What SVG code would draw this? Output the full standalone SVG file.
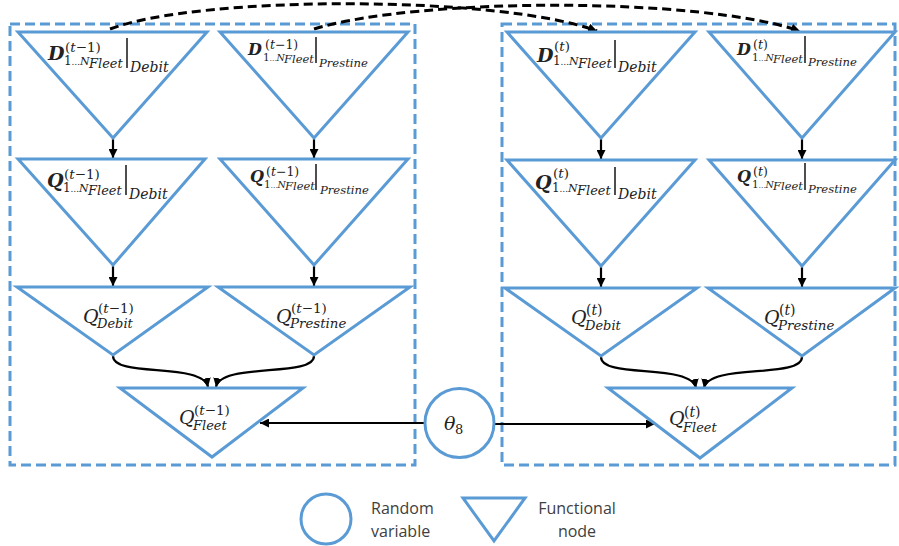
<svg xmlns="http://www.w3.org/2000/svg" width="899" height="546" viewBox="0 0 899 546">
<style>
.tri{fill:none;stroke:#5B9BD5;stroke-width:3;stroke-linejoin:miter}
.circ{fill:#fff;stroke:#5B9BD5;stroke-width:3}
.box{fill:none;stroke:#5B9BD5;stroke-width:3;stroke-dasharray:10 5}
.m{font-family:"DejaVu Serif","Liberation Serif",serif;fill:#222}
.i{font-style:italic}
.b{font-style:italic;font-weight:bold}
.bar{stroke:#222;stroke-width:1.6}
.c{fill:none;stroke:#000;stroke-width:2.2}
.d{fill:none;stroke:#000;stroke-width:3;stroke-dasharray:9 5}
.leg{font-family:"Open Sans","Noto Sans","Liberation Sans",sans-serif;font-size:16px;fill:#404040}
</style>
<defs>
<marker id="ah" viewBox="0 0 10 10" refX="10" refY="5" markerWidth="9" markerHeight="9" markerUnits="userSpaceOnUse" orient="auto"><path d="M0,0 L10,5 L0,10 z" fill="#000"/></marker>
</defs>

<g id="frames">
<rect class="box" x="10" y="24" width="405" height="441"/>
<rect class="box" x="502" y="24" width="393" height="441"/>
</g>

<g id="connectors">
<path class="d" d="M110,29 C200,-5 500,-5 597,31" marker-end="url(#ah)"/>
<path class="d" d="M314,29 C420,-3 700,-3 800,31" marker-end="url(#ah)"/>
<line class="c" x1="113" y1="139" x2="113" y2="158" marker-end="url(#ah)"/>
<line class="c" x1="314" y1="139" x2="314" y2="158" marker-end="url(#ah)"/>
<line class="c" x1="601" y1="139" x2="601" y2="159" marker-end="url(#ah)"/>
<line class="c" x1="802" y1="139" x2="802" y2="159" marker-end="url(#ah)"/>
<line class="c" x1="113" y1="266" x2="113" y2="286" marker-end="url(#ah)"/>
<line class="c" x1="314" y1="266" x2="314" y2="286" marker-end="url(#ah)"/>
<line class="c" x1="601" y1="266" x2="601" y2="287" marker-end="url(#ah)"/>
<line class="c" x1="802" y1="266" x2="802" y2="287" marker-end="url(#ah)"/>
<path class="c" d="M113,356 C113,378 203,362 208,387" marker-end="url(#ah)"/>
<path class="c" d="M314,356 C314,378 221,362 216,387" marker-end="url(#ah)"/>
<path class="c" d="M601,357 C601,379 691,363 696,388" marker-end="url(#ah)"/>
<path class="c" d="M802,357 C802,379 709,363 704,388" marker-end="url(#ah)"/>
<line class="c" x1="425" y1="423" x2="260" y2="423" marker-end="url(#ah)"/>
<line class="c" x1="494" y1="424" x2="655" y2="424" marker-end="url(#ah)"/>
</g>

<!-- Row 1 left -->
<g id="D_prev_debit">
<polygon class="tri" points="18,32 207,32 113,138"/>
<text class="m"><tspan class="b" x="48" y="60" font-size="19">D</tspan><tspan x="65" y="52" font-size="13.5">(<tspan class="i">t</tspan>−1)</tspan><tspan x="64" y="65" font-size="12">1</tspan><tspan x="71.5" y="65" font-size="8.5">…</tspan><tspan class="i" x="80" y="65" font-size="11">N</tspan><tspan class="i" x="89" y="68" font-size="13">Fleet</tspan><tspan class="i" x="130" y="72" font-size="14">Debit</tspan></text>
<line class="bar" x1="127" y1="38" x2="127" y2="68"/>
</g>
<g id="D_prev_prestine">
<polygon class="tri" points="220,32 408,32 314,138"/>
<text class="m"><tspan class="b" x="248" y="55" font-size="16">D</tspan><tspan x="265" y="49" font-size="12.5">(<tspan class="i">t</tspan>−1)</tspan><tspan x="263" y="61" font-size="10.5">1</tspan><tspan x="269.5" y="61" font-size="7.5">…</tspan><tspan class="i" x="276.5" y="61" font-size="9.5">N</tspan><tspan class="i" x="284" y="63" font-size="11.5">Fleet</tspan><tspan class="i" x="319" y="67" font-size="11.6">Prestine</tspan></text>
<line class="bar" x1="316" y1="37" x2="316" y2="63"/>
</g>
<!-- Row 1 right -->
<g id="D_t_debit">
<polygon class="tri" points="507,32 695,32 601,138"/>
<text class="m"><tspan class="b" x="537" y="62" font-size="19">D</tspan><tspan x="554" y="51" font-size="13.5">(<tspan class="i">t</tspan>)</tspan><tspan x="553" y="65" font-size="12">1</tspan><tspan x="560.5" y="65" font-size="8.5">…</tspan><tspan class="i" x="569" y="65" font-size="11">N</tspan><tspan class="i" x="578" y="68" font-size="13">Fleet</tspan><tspan class="i" x="618" y="72" font-size="14">Debit</tspan></text>
<line class="bar" x1="615" y1="40" x2="615" y2="68"/>
</g>
<g id="D_t_prestine">
<polygon class="tri" points="709,32 895,32 802,138"/>
<text class="m"><tspan class="b" x="737" y="55" font-size="16">D</tspan><tspan x="753" y="49" font-size="12.5">(<tspan class="i">t</tspan>)</tspan><tspan x="752" y="61" font-size="10.5">1</tspan><tspan x="758.5" y="61" font-size="7.5">…</tspan><tspan class="i" x="765.5" y="61" font-size="9.5">N</tspan><tspan class="i" x="773" y="63" font-size="11.5">Fleet</tspan><tspan class="i" x="808" y="66" font-size="11.6">Prestine</tspan></text>
<line class="bar" x1="805" y1="36" x2="805" y2="63"/>
</g>

<!-- Row 2 left -->
<g id="Q_prev_debit_vec">
<polygon class="tri" points="18,159 205,159 113,265"/>
<text class="m"><tspan class="b" x="47" y="187" font-size="19">Q</tspan><tspan x="64" y="179" font-size="13.5">(<tspan class="i">t</tspan>−1)</tspan><tspan x="63" y="192" font-size="12">1</tspan><tspan x="70.5" y="192" font-size="8.5">…</tspan><tspan class="i" x="79" y="192" font-size="11">N</tspan><tspan class="i" x="88" y="195" font-size="13">Fleet</tspan><tspan class="i" x="129" y="199" font-size="14">Debit</tspan></text>
<line class="bar" x1="126" y1="165" x2="126" y2="195"/>
</g>
<g id="Q_prev_prestine_vec">
<polygon class="tri" points="220,159 408,159 314,265"/>
<text class="m"><tspan class="b" x="250" y="182" font-size="16">Q</tspan><tspan x="266" y="176" font-size="12.5">(<tspan class="i">t</tspan>−1)</tspan><tspan x="264" y="188" font-size="10.5">1</tspan><tspan x="270.5" y="188" font-size="7.5">…</tspan><tspan class="i" x="277.5" y="188" font-size="9.5">N</tspan><tspan class="i" x="285" y="190" font-size="11.5">Fleet</tspan><tspan class="i" x="320" y="194" font-size="11.6">Prestine</tspan></text>
<line class="bar" x1="316" y1="164" x2="316" y2="190"/>
</g>
<!-- Row 2 right -->
<g id="Q_t_debit_vec">
<polygon class="tri" points="507,160 695,160 601,266"/>
<text class="m"><tspan class="b" x="535" y="189" font-size="19">Q</tspan><tspan x="553" y="178" font-size="13.5">(<tspan class="i">t</tspan>)</tspan><tspan x="552" y="192" font-size="12">1</tspan><tspan x="559.5" y="192" font-size="8.5">…</tspan><tspan class="i" x="568" y="192" font-size="11">N</tspan><tspan class="i" x="577" y="195" font-size="13">Fleet</tspan><tspan class="i" x="618" y="199" font-size="14">Debit</tspan></text>
<line class="bar" x1="615" y1="167" x2="615" y2="195"/>
</g>
<g id="Q_t_prestine_vec">
<polygon class="tri" points="709,160 895,160 802,266"/>
<text class="m"><tspan class="b" x="737" y="182" font-size="16">Q</tspan><tspan x="753" y="176" font-size="12.5">(<tspan class="i">t</tspan>)</tspan><tspan x="752" y="188" font-size="10.5">1</tspan><tspan x="758.5" y="188" font-size="7.5">…</tspan><tspan class="i" x="765.5" y="188" font-size="9.5">N</tspan><tspan class="i" x="773" y="190" font-size="11.5">Fleet</tspan><tspan class="i" x="808" y="193" font-size="11.6">Prestine</tspan></text>
<line class="bar" x1="805" y1="163" x2="805" y2="190"/>
</g>

<!-- Row 3 -->
<g id="Q_prev_debit">
<polygon class="tri" points="17,287 208,287 113,355"/>
<text class="m"><tspan class="i" x="83" y="323" font-size="19">Q</tspan><tspan x="98" y="313" font-size="13.5">(<tspan class="i">t</tspan>−1)</tspan><tspan class="i" x="97" y="328" font-size="13">Debit</tspan></text>
</g>
<g id="Q_prev_prestine">
<polygon class="tri" points="218,287 410,287 314,355"/>
<text class="m"><tspan class="i" x="276" y="323" font-size="19">Q</tspan><tspan x="291" y="313" font-size="13.5">(<tspan class="i">t</tspan>−1)</tspan><tspan class="i" x="290" y="328" font-size="13.4">Prestine</tspan></text>
</g>
<g id="Q_t_debit">
<polygon class="tri" points="505,288 697,288 601,356"/>
<text class="m"><tspan class="i" x="571" y="324" font-size="19">Q</tspan><tspan x="586" y="315" font-size="14">(<tspan class="i">t</tspan>)</tspan><tspan class="i" x="585" y="330" font-size="13">Debit</tspan></text>
</g>
<g id="Q_t_prestine">
<polygon class="tri" points="708,288 895,288 802,356"/>
<text class="m"><tspan class="i" x="764" y="324" font-size="19">Q</tspan><tspan x="779" y="315" font-size="14">(<tspan class="i">t</tspan>)</tspan><tspan class="i" x="778" y="330" font-size="13.4">Prestine</tspan></text>
</g>

<!-- Row 4 -->
<g id="Q_prev_fleet">
<polygon class="tri" points="120,388 303,388 212,457"/>
<text class="m"><tspan class="i" x="179" y="424" font-size="19">Q</tspan><tspan x="194" y="415" font-size="13.5">(<tspan class="i">t</tspan>−1)</tspan><tspan class="i" x="193" y="430" font-size="13">Fleet</tspan></text>
</g>
<g id="Q_t_fleet">
<polygon class="tri" points="608,388 792,388 700,458"/>
<text class="m"><tspan class="i" x="669" y="425" font-size="19">Q</tspan><tspan x="684" y="417" font-size="14">(<tspan class="i">t</tspan>)</tspan><tspan class="i" x="683" y="432" font-size="13">Fleet</tspan></text>
</g>

<g id="theta8">
<circle class="circ" cx="459.5" cy="423" r="34.5"/>
<text class="m"><tspan class="i" x="444" y="430" font-size="19">θ</tspan><tspan x="455" y="434" font-size="13">8</tspan></text>
</g>

<g id="legend">
<circle class="circ" cx="326" cy="519" r="25"/>
<text class="leg" x="371" y="514">Random</text>
<text class="leg" x="371" y="537">variable</text>
<polygon class="tri" points="463,498 525,498 494,541"/>
<text class="leg" x="577" y="514" text-anchor="middle">Functional</text>
<text class="leg" x="577" y="537" text-anchor="middle">node</text>
</g>
</svg>
